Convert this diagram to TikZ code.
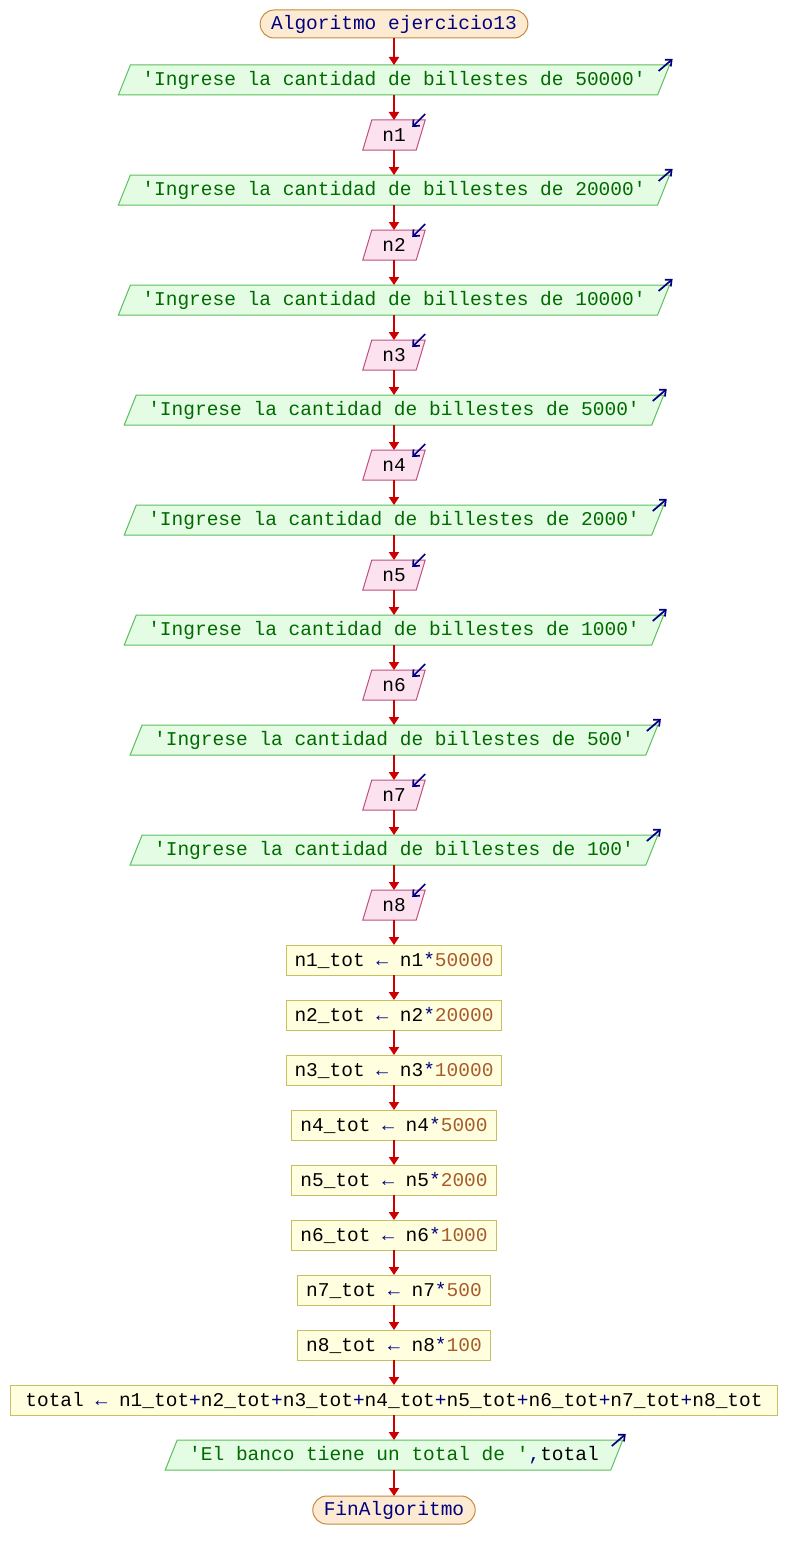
\documentclass[tikz,border=0pt]{standalone}
\usepackage{fontspec}
\setmonofont{Liberation Mono}
\usetikzlibrary{arrows.meta,backgrounds,calc}
\definecolor{termfill}{HTML}{FCEBD2}
\definecolor{termline}{HTML}{C88A3C}
\definecolor{navyc}{HTML}{000080}
\definecolor{outfill}{HTML}{E4FCE4}
\definecolor{outline}{HTML}{5CBF5C}
\definecolor{strgreen}{HTML}{006A00}
\definecolor{infill}{HTML}{FCE2EE}
\definecolor{inline}{HTML}{C0507F}
\definecolor{procfill}{HTML}{FFFFE0}
\definecolor{procline}{HTML}{C8C060}
\definecolor{numc}{HTML}{A85A2A}
\definecolor{flowred}{HTML}{CC0000}
\newcommand\paral[3]{%
  \path[#3] ($(#1.north west)+(#2,0)$) -- ($(#1.north east)+(#2,0)$) -- ($(#1.south east)+(-#2,0)$) -- ($(#1.south west)+(-#2,0)$) -- cycle;}
\newcommand\outicon[1]{\draw[icon] ($(#1.north east)+(-5,6)$) -- ++(14,-12);}
\newcommand\inicon[1]{\draw[icon] ($(#1.north east)+(4.5,-6)$) -- ++(-13,13);}
\begin{document}
\begin{tikzpicture}[x=1pt,y=-1pt,
  every node/.style={font=\ttfamily\fontsize{19.5}{22}\selectfont, outer sep=0pt, minimum height=30pt, inner ysep=2pt},
  term/.style={draw=termline, fill=termfill, line width=1pt, rounded corners=14pt, minimum height=28pt, inner xsep=11pt, text=navyc},
  outp/.style={inner xsep=18pt, text=strgreen},
  inp/.style={inner xsep=15pt, text=black},
  proc/.style={draw=procline, fill=procfill, line width=1pt, inner xsep=8.5pt, text=black},
  outshape/.style={draw=outline, fill=outfill, line width=1pt},
  inshape/.style={draw=inline, fill=infill, line width=1pt},
  flow/.style={draw=flowred, line width=2pt, -{Triangle[width=10pt,length=8pt]}},
  icon/.style={draw=navyc, line width=1.7pt, -{Straight Barb[length=5pt,width=9pt]}}]
\path[use as bounding box] (0,0) rectangle (788,1560);
\node[term] (s) at (394,24) {Algoritmo ejercicio13};
\foreach \k/\v in {1/50000,2/20000,3/10000,4/5000,5/2000,6/1000,7/500,8/100}{
  \node[outp] (o\k) at (394,{80+110*(\k-1)}) {'Ingrese la cantidad de billestes de \v'};
  \node[inp] (i\k) at (394,{135+110*(\k-1)}) {n\k};
}
\foreach \k/\v in {1/50000,2/20000,3/10000,4/5000,5/2000,6/1000,7/500,8/100}{
  \node[proc] (p\k) at (394,{960+55*(\k-1)}) {n\k\_tot {\color{navyc}←} n\k{\color{navyc}*}{\color{numc}\v}};
}
\node[proc, inner xsep=15pt] (t) at (394,1400) {total {\color{navyc}←} n1\_tot{\color{navyc}+}n2\_tot{\color{navyc}+}n3\_tot{\color{navyc}+}n4\_tot{\color{navyc}+}n5\_tot{\color{navyc}+}n6\_tot{\color{navyc}+}n7\_tot{\color{navyc}+}n8\_tot};
\node[outp, text=black] (o9) at (394,1455) {{\color{strgreen}'El banco tiene un total de '}{\color{navyc},}total};
\node[term] (e) at (394,1510) {FinAlgoritmo};
\begin{scope}[on background layer]
  \fill[white] (0,0) rectangle (788,1560);
  \foreach \k in {1,...,9}{\paral{o\k}{6}{outshape}}
  \foreach \k in {1,...,8}{\paral{i\k}{4.5}{inshape}}
\end{scope}
\foreach \k in {1,...,9}{\outicon{o\k}}
\foreach \k in {1,...,8}{\inicon{i\k}}
\draw[flow] (s) -- (o1);
\foreach \k in {1,...,8}{\draw[flow] (o\k) -- (i\k);}
\foreach \k [evaluate=\k as \n using int(\k+1)] in {1,...,7}{\draw[flow] (i\k) -- (o\n);}
\draw[flow] (i8) -- (p1);
\foreach \k [evaluate=\k as \n using int(\k+1)] in {1,...,7}{\draw[flow] (p\k) -- (p\n);}
\draw[flow] (p8) -- (t);
\draw[flow] (t) -- (o9);
\draw[flow] (o9) -- (e);
\end{tikzpicture}
\end{document}
